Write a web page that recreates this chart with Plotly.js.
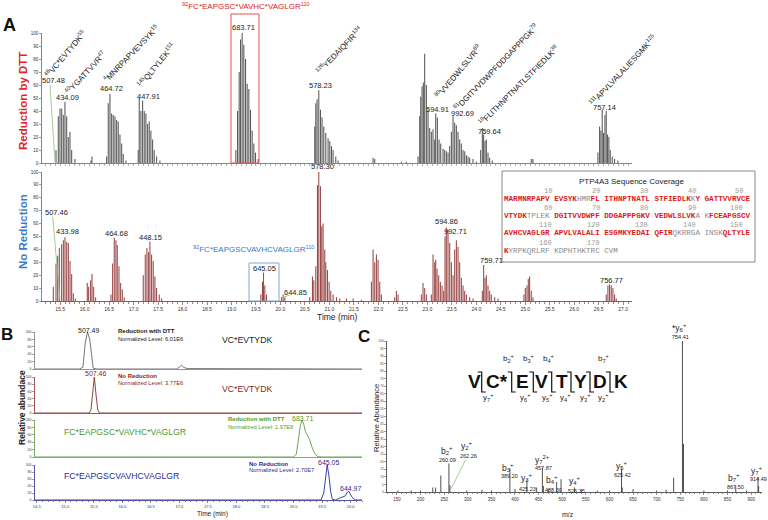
<!DOCTYPE html>
<html><head><meta charset="utf-8">
<script src="https://cdn.plot.ly/plotly-3.0.1.min.js"></script>
<style>html,body{margin:0;padding:0;background:#fff}#chart{width:768px;height:520px}</style>
</head><body><div id="chart"></div>
<script>
const W = 768, H = 520;

// ---------- Panel A: Reduction by DTT (time, relative intensity) ----------
const dttTime = [
15.416,15.463,15.497,15.532,15.565,15.599,15.634,15.667,15.701,15.736,15.803,
16.13,16.15,
16.450,16.483,16.518,16.552,16.585,16.620,16.654,16.687,16.722,16.757,16.789,16.844,
17.095,17.116,17.150,17.185,17.218,17.252,17.287,17.320,17.354,17.389,17.422,17.471,17.538,
19.089,19.124,19.157,19.185,19.218,19.252,19.287,19.320,19.354,19.389,19.422,19.457,19.491,19.544,
20.701,20.722,20.748,20.783,20.818,20.850,20.885,20.926,20.973,21.008,21.042,21.075,21.130,21.177,
21.891,21.926,
22.47,22.57,
22.810,22.844,22.865,22.892,22.919,22.946,22.980,23.014,23.048,23.082,23.116,23.150,23.171,23.205,23.239,23.273,23.321,23.355,23.389,23.423,23.457,23.491,23.525,23.559,23.593,23.627,23.661,23.695,23.729,23.763,23.797,23.831,23.865,23.933,24.001,
24.089,24.123,24.150,24.178,24.205,24.239,24.273,24.327,
25.123,25.157,
26.484,26.518,26.545,26.572,26.599,26.627,26.654,26.681,26.708,26.735,26.776,26.824,26.892];
const dttInt = [
10,36,42,42,37,47,36,20,24,10,3,
2,5,
5,46,53,38,37,36,33,32,22,15,7,2,
10,50,40,48,40,38,30,32,25,18,10,5,2,
10,40,70,95,100,91,80,61,57,41,25,15,8,3,
28,46,49,56,41,35,28,23,19,17,13,10,5,2,
4,3,
1,1,
5,36,51,59,62,84,60,41,27,24,26,18,38,35,18,15,11,10,9,8,13,24,36,31,29,24,18,15,10,9,6,5,4,3,1,
10,27,22,17,18,8,4,2,
3,3,
8,28,25,41,23,37,40,22,20,10,5,3,2];

// ---------- Panel A: No Reduction ----------
const nrTime = [
15.361,15.416,15.450,15.484,15.531,15.566,15.599,15.634,15.668,15.702,15.736,15.770,15.810,
16.055,16.083,16.123,16.151,16.185,16.225,
16.538,16.572,16.606,16.640,16.667,16.702,16.736,16.770,16.810,
17.198,17.239,17.273,17.307,17.334,17.368,17.402,17.436,17.470,17.525,17.572,
19.600,19.633,19.654,19.681,19.715,
20.021,20.055,20.089,
20.599,20.654,20.681,20.722,20.756,20.783,20.817,20.844,20.871,20.905,20.926,20.960,20.994,21.028,21.076,21.144,21.212,21.348,21.484,21.654,
21.858,21.892,21.926,21.960,21.994,22.028,22.062,
22.334,22.368,22.402,
22.878,22.912,22.946,22.980,
23.082,23.116,23.150,23.171,23.198,23.232,23.266,23.300,23.334,23.361,23.388,23.422,23.457,23.491,23.525,23.559,23.593,23.627,23.661,23.695,23.729,23.763,23.797,23.865,23.933,
24.123,24.150,24.178,24.205,24.239,24.273,24.307,24.375,24.443,
24.973,25.001,25.035,25.062,25.089,25.123,25.157,
26.654,26.688,26.722,26.756,26.790,26.824,26.858];
const nrInt = [
11,29,35,41,44,47,49.5,46,45,31,21,6,2,
14,11,16,21,11,3,
5,29,49,47,43.5,27,14,9,3,
20,36,41,38,46,36,31,19,10,5,2,
5,15,22,12,5,
3,5,3,
3,19,16,27,90,100,89,58,60,40,30,24,15,8,5,3,2,2,2,1,
15,40,30,36,32,15,5,
3,8,5,
5,14,10,5,
5,36,30,32,25,20,15,12,8,50,57,55,45,30,20,40,47,42,30,18,12,8,5,3,2,
8,28,18,20,12,8,5,3,2,
5,10,12,17,19,8,3,
5,12,13,12,10,5,2];

// ---------- Panel B: extracted ion chromatograms ----------
const b1Time = [14.47,15.25,15.31,15.35,15.39,15.41,15.43,15.46,15.49,15.55,16.65,16.71,16.76,16.95,17.0,17.04,17.08,17.15,17.4,18.9,19.0,20.2];
const b1Int  = [0,0,5,70,100,90,80,40,2,0,0,2,0,0,5,10,4,1,1,1,0,0];
const b2Time = [14.47,15.42,15.45,15.48,15.51,15.54,15.57,15.6,20.2];
const b2Int  = [0,0,8,60,100,50,8,0,0];
const b3Time = [14.47,19.0,19.05,19.09,19.12,19.15,19.18,19.21,19.25,19.28,19.32,19.37,19.42,19.5,20.2];
const b3Int  = [0,0,8,45,85,100,88,68,58,48,28,10,1,0,0];
const b4Time = [14.47,19.48,19.53,19.56,19.59,19.62,19.65,19.68,19.74,19.79,19.86,19.91,19.94,19.97,20.0,20.04,20.09,20.2];
const b4Int  = [0,0,20,65,100,70,25,2,0,4,8,12,22,25,15,5,0,0];

// ---------- Panel C: MS/MS spectrum ----------
const msMz  = [152,180,200,226,232,243,260.09,262.26,298,330,350,389.20,400,425.23,446,457.87,460,470,488.30,497.5,526.35,540,574,600,625.42,627,650,700,720,736,754.41,756.6,800,850,867.50,890,914.49,916];
const msInt = [1,1,1,3,3,11,18.8,4.4,1,1.5,1,15.5,2,7.7,3,16.1,4,2,6.6,8.5,2.9,1.5,1,1,15.5,3,2,1,1.5,9.5,100,32,1,1,3.8,1,10,4];

// ---------- Sequence coverage ----------
const seqRows = [
 'MARMNRPAPV EVSYKHMRFL ITHNPTNATL STFIEDLKKY GATTVVRVCE',
 'VTYDKTPLEK DGITVVDWPF DDGAPPPGKV VEDWLSLVKA KFCEAPGSCV',
 'AVHCVAGLGR APVLVALALI ESGMKYEDAI QFIRQKRRGA INSKQLTYLE',
 'KYRPKQRLRF KDPHTHKTRC CVM'];
const covRows = [
 '1111111111 1111100011 1111111111 1111111101 1111111111',
 '1111100000 1111111111 1111111111 1111111110 0111111111',
 '1111111111 1111111111 1111111111 1111000000 0000111111',
 '1000000000 0000000000 000'];
const numRows = [['10','20','30','40','50'],['60','70','80','90','100'],['110','120','130','140','150'],['160','170']];

const FONT = 'Liberation Sans, Arial, sans-serif';
const fx = px => px / W, fy = py => 1 - py / H;

function T(text, px, py, size, color, extra) {
  return Object.assign({xref:'paper', yref:'paper', x:fx(px), y:fy(py), text:text, showarrow:false,
    xanchor:'center', yanchor:'middle', borderpad:0,
    font:{family:FONT, size:size, color:color||'#222'}}, extra||{});
}
function L(x0,y0,x1,y1,color,w){return {type:'line',xref:'paper',yref:'paper',x0:fx(x0),y0:fy(y0),x1:fx(x1),y1:fy(y1),line:{color:color,width:w||1}};}
function R(x0,y0,x1,y1,color,w,fill){return {type:'rect',xref:'paper',yref:'paper',x0:fx(x0),y0:fy(y0),x1:fx(x1),y1:fy(y1),line:{color:color,width:w||1},fillcolor:fill||'rgba(0,0,0,0)'};}

const traces = [
  {type:'bar', x:dttTime, y:dttInt, width:0.022, marker:{color:'#5a5a5a', line:{width:0}}, xaxis:'x', yaxis:'y', hoverinfo:'skip'},
  {type:'bar', x:nrTime, y:nrInt, width:0.022, marker:{color:'#9c4a4a', line:{width:0}}, xaxis:'x2', yaxis:'y2', hoverinfo:'skip'},
  {type:'scatter', mode:'lines', x:b1Time, y:b1Int, line:{color:'#666', width:0.9}, xaxis:'x3', yaxis:'y3'},
  {type:'scatter', mode:'lines', x:b2Time, y:b2Int, line:{color:'#8b2a2a', width:0.9}, xaxis:'x4', yaxis:'y4'},
  {type:'scatter', mode:'lines', x:b3Time, y:b3Int, line:{color:'#5c9a3c', width:0.9}, xaxis:'x5', yaxis:'y5'},
  {type:'scatter', mode:'lines', x:b4Time, y:b4Int, line:{color:'#2a2a8c', width:0.9}, xaxis:'x6', yaxis:'y6'},
  {type:'bar', x:msMz, y:msInt, width:1.8, marker:{color:'#333', line:{width:0}}, xaxis:'x7', yaxis:'y7', hoverinfo:'skip'}
];

const tf = s => ({family:FONT, size:s, color:'#333'});
function yax(d0,d1,dtick,fs,color){
  return {domain:[fy(d0),fy(d1)], range:[0,100], dtick:dtick, ticks:'outside', ticklen:2, tickwidth:0.5,
    tickfont:tf(fs), showline:true, linecolor:color||'#666', linewidth:0.8, showgrid:false, zeroline:false, fixedrange:true};
}
function xax(p0,p1,range,anchor,opts){
  return Object.assign({domain:[fx(p0),fx(p1)], range:range, anchor:anchor, showline:true, linecolor:'#666', linewidth:0.8,
    showgrid:false, zeroline:false, ticks:'', showticklabels:false, fixedrange:true}, opts||{});
}

const layout = {
  width:W, height:H, margin:{l:0,r:0,t:0,b:0}, paper_bgcolor:'#fff', plot_bgcolor:'rgba(0,0,0,0)',
  showlegend:false, barmode:'overlay', font:{family:FONT},
  xaxis: xax(42,632,[15.13,27.18],'y',{ticks:'outside', dtick:0.1, ticklen:2, tickwidth:0.5, tickcolor:'#666'}),
  yaxis: Object.assign(yax(163,33,10,4.5), {anchor:'x'}),
  xaxis2: xax(42,632,[15.13,27.18],'y2',{ticks:'outside', dtick:0.5, ticklen:3, tickwidth:0.6, tickcolor:'#7a2a2a', linecolor:'#7a2a2a',
     showticklabels:true, tickformat:'.1f', tickfont:tf(5), minor:{dtick:0.1, ticks:'outside', ticklen:2, tickcolor:'#7a2a2a'}}),
  yaxis2: Object.assign(yax(301,172,10,4.5), {anchor:'x2'}),
  xaxis3: xax(35,362,[14.47,20.2],'y3',{linecolor:'#777'}),
  yaxis3: Object.assign(yax(369,332,20,3.5,'#777'), {anchor:'x3'}),
  xaxis4: xax(35,362,[14.47,20.2],'y4',{linecolor:'#8b2a2a'}),
  yaxis4: Object.assign(yax(413,377,20,3.5,'#8b2a2a'), {anchor:'x4'}),
  xaxis5: xax(35,362,[14.47,20.2],'y5',{linecolor:'#5c9a3c'}),
  yaxis5: Object.assign(yax(457,420,20,3.5,'#5c9a3c'), {anchor:'x5'}),
  xaxis6: xax(35,362,[14.47,20.2],'y6',{linecolor:'#2a2a8c', ticks:'outside', dtick:0.5, ticklen:2.5, tickwidth:0.6, tickcolor:'#2a2a8c',
     showticklabels:true, tickformat:'.1f', tickfont:tf(4), minor:{dtick:0.1, ticks:'outside', ticklen:1.5, tickcolor:'#2a2a8c'}}),
  yaxis6: Object.assign(yax(500,465,20,3.5,'#2a2a8c'), {anchor:'x6'}),
  xaxis7: xax(387,762,[129,923],'y7',{linecolor:'#333', ticks:'outside', dtick:50, ticklen:2.5, tickwidth:0.6, showticklabels:true,
     tickfont:tf(4.5), minor:{dtick:10, ticks:'outside', ticklen:1.5}}),
  yaxis7: Object.assign(yax(492,341,5,3,'#333'), {anchor:'x7'}),
  annotations: [], shapes: []
};
const A = layout.annotations, S = layout.shapes;

// Panel letters & side titles
A.push(T('<b>A</b>', 9, 25, 18, '#111'));
A.push(T('<b>B</b>', 7, 334, 17, '#111'));
A.push(T('<b>C</b>', 364, 336, 17, '#111'));
A.push(T('<b>Reduction by DTT</b>', 23, 101, 11.5, '#e02424', {textangle:-90}));
A.push(T('<b>No Reduction</b>', 23, 232, 11.5, '#3d7cc9', {textangle:-90}));
A.push(T('<b>Relative abundace</b>', 22, 408, 8.5, '#222', {textangle:-90}));
A.push(T('Relative Abundance', 376, 418, 7.7, '#222', {textangle:-90}));
A.push(T('Time (min)', 337, 316.5, 8.5));
A.push(T('Time (min)', 212, 513.5, 6.5));
A.push(T('m/z', 568, 514, 7));

// Panel A top
A.push(T('<sup>92</sup>FC*EAPGSC*VAVHC*VAGLGR<sup>110</sup>', 246, 6, 8, '#e02020'));
S.push(R(231,14,259,163,'#e05050',1));
const pepLabels = [
 ['<sup>48</sup>VC*EVTYDK<sup>55</sup>', 65, 54, -50],
 ['<sup>40</sup>YGATTVVR<sup>47</sup>', 85, 73, -47],
 ['<sup>4</sup>MNRPAPVEVSYK<sup>15</sup>', 131.5, 53.5, -46],
 ['<sup>145</sup>QLTYLEK<sup>151</sup>', 156, 65, -51],
 ['<sup>126</sup>YEDAIQFIR<sup>134</sup>', 339, 50, -46],
 ['<sup>80</sup>VVEDWLSLVR<sup>89</sup>', 458.5, 71.5, -50],
 ['<sup>61</sup>DGITVVDWPFDDGAPPPGK<sup>79</sup>', 496, 67.5, -46],
 ['<sup>19</sup>FLITHNPTNATLSTFIEDLK<sup>38</sup>', 518.5, 85, -45],
 ['<sup>111</sup>APVLVALALIESGMK<sup>125</sup>', 622.5, 70, -47]];
pepLabels.forEach(p => A.push(T(p[0], p[1], p[2], 8, '#222', {textangle:p[3]})));
const topMz = [['507.48',53,80],['434.09',67,97.5],['464.72',111,88.5],['447.91',148,96.5],['683.71',243,27],
  ['578.23',320,85.5],['594.91',437,109],['992.69',462,113],['759.64',489,131.5],['757.14',604,107.5]];
topMz.forEach(m => A.push(T(m[0], m[1], m[2], 7.5)));
S.push(L(50,85,55,162,'#8cc07a',0.8));

// Panel A bottom
const botMz = [['507.46',56,212.5],['433.98',67,232],['464.68',116,233.5],['448.15',150,238],['578.30',322,167],
  ['645.05',264,268],['644.85',295,292],['594.86',446,221.5],['992.71',455,231.5],['759.71',491,260],['756.77',611,280]];
botMz.forEach(m => A.push(T(m[0], m[1], m[2], 7.5)));
S.push(L(52.7,216.7,60,300,'#8cc07a',0.8));
S.push(L(281,298,290,295,'#8cc07a',0.8));
A.push(T('<sup>92</sup>FC*EAPGSCVAVHCVAGLGR<sup>110</sup>', 253, 248.5, 8, '#3a78c8'));
S.push(R(249,263,279,301,'#86a8d4',1));

// Sequence coverage box
S.push(R(502,171,755,262,'#888',1,'#fff'));
A.push(T('PTP4A3 Sequence Coverage', 632, 181, 8, '#222'));
const rowY = [199, 216, 233, 251], numY = [191, 208, 225, 243];
const numX = [553, 601, 649, 697, 744];
seqRows.forEach((row, r) => {
  let html = '', cur = null, buf = '';
  const flush = () => {
    if (!buf) return;
    html += cur === '1' ? '<span style="color:#e01818"><b>' + buf + '</b></span>'
                        : '<span style="color:#8a8a8a">' + buf + '</span>';
    buf = '';
  };
  for (let i = 0; i < row.length; i++) {
    const ch = row[i] === ' ' ? '\u00a0' : row[i];
    const c = covRows[r][i] === ' ' ? (cur || '0') : covRows[r][i];
    if (c !== cur) { flush(); cur = c; }
    buf += ch;
  }
  flush();
  A.push(T(html, 503, rowY[r], 7.6, '#222', {xanchor:'left', font:{family:'Liberation Mono, Courier New, monospace', size:7.6, color:'#222'}}));
  numRows[r].forEach((n, k) => A.push(T(n, numX[k], numY[r], 7, '#999', {xanchor:'right', font:{family:'Liberation Mono, Courier New, monospace', size:7, color:'#999'}})));
});

// Panel B texts
A.push(T('507.49', 89, 330, 7, '#222'));
A.push(T('<b>Reduction with DTT</b>', 117, 331, 6, '#222', {xanchor:'left'}));
A.push(T('Normalized Level: 6.01E6', 117, 338.5, 5.7, '#222', {xanchor:'left'}));
A.push(T('VC*EVTYDK', 247, 340, 8.7, '#222'));
A.push(T('507.46', 96, 373.5, 7, '#8b2323'));
A.push(T('<b>No Reduction</b>', 117, 376, 6, '#8b2323', {xanchor:'left'}));
A.push(T('Normalized Level: 3.77E6', 117, 383, 5.7, '#8b2323', {xanchor:'left'}));
A.push(T('VC*EVTYDK', 247, 389, 8.7, '#8b2323'));
A.push(T('<b>Reduction with DTT</b>', 227, 419, 6, '#4e9a2e', {xanchor:'left'}));
A.push(T('683.71', 303, 418.5, 7, '#4e9a2e'));
A.push(T('Normalized Level: 1.97E8', 227, 426.5, 5.7, '#4e9a2e', {xanchor:'left'}));
A.push(T('FC*EAPGSC*VAVHC*VAGLGR', 63, 432, 8.7, '#4e9a2e', {xanchor:'left'}));
A.push(T('<b>No Reduction</b>', 248, 464, 6, '#2b2b8f', {xanchor:'left'}));
A.push(T('645.05', 329, 462, 7, '#2b2b8f'));
A.push(T('Normalized Level: 2.70E7', 248, 470, 5.7, '#2b2b8f', {xanchor:'left'}));
A.push(T('FC*EAPGSCVAVHCVAGLGR', 63, 476, 8.7, '#2b2b8f', {xanchor:'left'}));
A.push(T('644.97', 351, 488, 7, '#2b2b8f'));

// Panel C: sequence graphic
const letters = [['V',474],['C*',497],['E',522.7],['V',541.7],['T',561.7],['Y',580.7],['D',600],['K',620.7]];
letters.forEach(l => A.push(T('<b>' + l[0] + '</b>', l[1], 381, 19, '#111', {font:{family:'Liberation Sans Narrow, Liberation Sans, Arial, sans-serif', size:19, color:'#111'}})));
[481.7, 511.7, 533.3, 551.7, 571, 590, 610].forEach(x => {
  S.push({type:'path', xref:'paper', yref:'paper', line:{color:'#111', width:1.2},
    path:`M ${fx(x-4)},${fy(372)} L ${fx(x)},${fy(372)} L ${fx(x)},${fy(392)} L ${fx(x+4)},${fy(392)}`});
});
[['2',508.3],['3',528.3],['4',548.3],['7',603.3]].forEach(b => A.push(T('b<sub>' + b[0] + '</sub><sup>+</sup>', b[1], 358, 8, '#222')));
[['7',488.3],['6',525],['5',546.7],['4',565],['3',585],['2',603.3]].forEach(y => A.push(T('y<sub>' + y[0] + '</sub><sup>+</sup>', y[1], 397, 8, '#222')));

// Panel C: ion labels [label, value, x, labelY, valueY]
const ionLabels = [
 ['b<sub>2</sub><sup>+</sup>','260.09',446.7,450,459.5],
 ['y<sub>2</sub><sup>+</sup>','262.26',467,445,455.5],
 ['b<sub>3</sub><sup>+</sup>','389.20',508,467,476],
 ['y<sub>3</sub><sup>+</sup>','425.23',526.7,477,488.5],
 ['y<sub>7</sub><sup>2+</sup>','457.87',542.3,459.5,467.5],
 ['b<sub>4</sub><sup>+</sup>','488.30',552,479.5,490],
 ['y<sub>4</sub><sup>+</sup>','526.35',575,480.5,491],
 ['y<sub>5</sub><sup>+</sup>','625.42',621.7,465,474.5],
 ['*y<sub>6</sub><sup>+</sup>','754.41',679,327,337],
 ['b<sub>7</sub><sup>+</sup>','867.50',734,477,487],
 ['y<sub>7</sub><sup>+</sup>','914.49',757.3,470,478.5]];
ionLabels.forEach(l => {
  A.push(T(l[0], l[2], l[3], 8.5, '#222'));
  A.push(T(l[1], l[2] + 1, l[4], 5.5, '#222'));
});
S.push(L(466,459,451,489,'#8cc07a',0.8));

Plotly.newPlot('chart', traces, layout, {staticPlot:true, displayModeBar:false});
</script>
</body></html>
